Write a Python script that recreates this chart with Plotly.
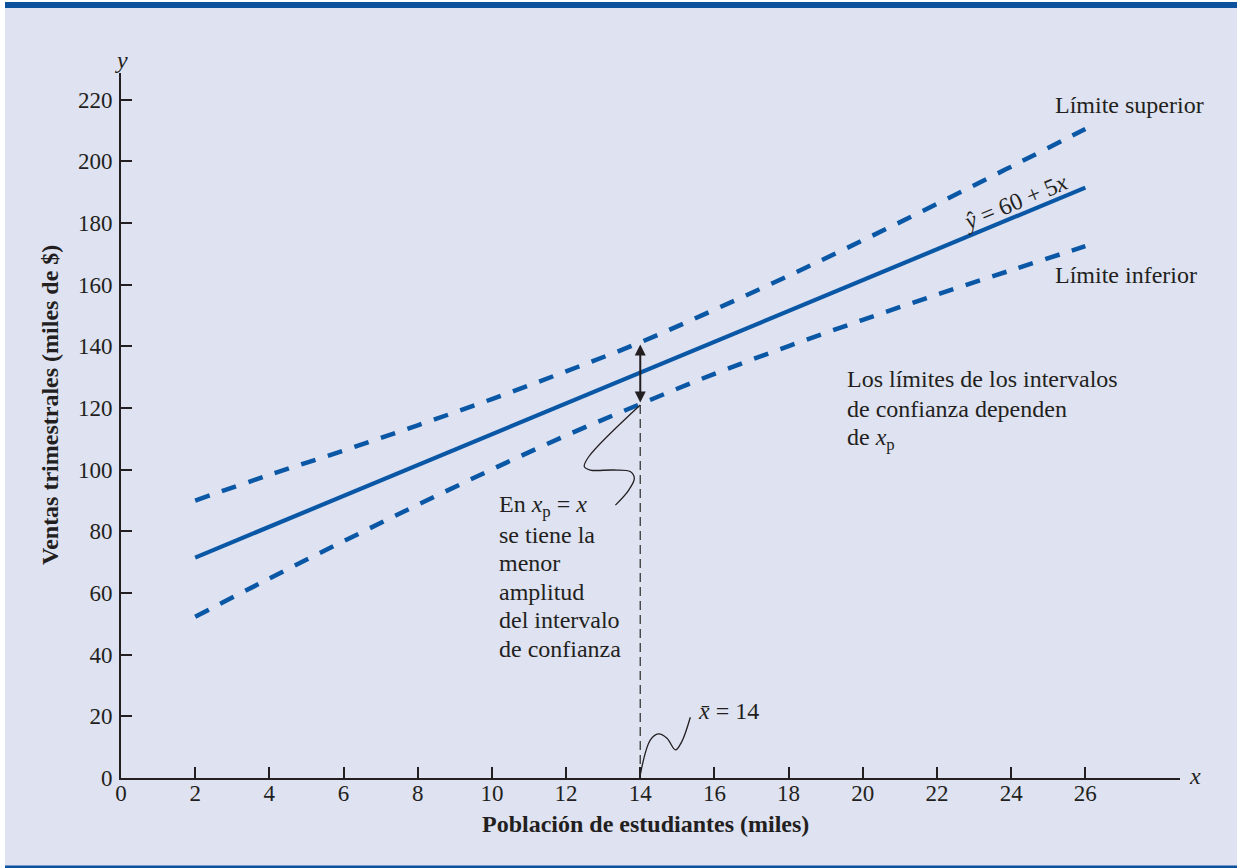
import plotly.graph_objects as go

# ---------------- data ----------------
x_pts = [2, 4, 6, 8, 10, 12, 14, 16, 18, 20, 22, 24, 26]
y_hat = [71.5, 81.5, 91.5, 101.5, 111.5, 121.5, 131.5, 141.5, 151.5, 161.5, 171.5, 181.5, 191.5]
upper = [90.0, 98.3, 106.2, 114.4, 122.9, 131.9, 141.3, 151.9, 162.9, 174.4, 186.2, 198.3, 210.5]
lower = [52.3, 64.7, 76.8, 88.6, 100.1, 111.1, 121.3, 131.1, 140.1, 148.6, 156.8, 164.7, 172.5]

x_tick_vals = list(range(0, 27, 2))
y_tick_vals = list(range(0, 221, 20))

x_bar = 14
vline_x = [14, 14]
vline_y = [0, 121.3]
arrow_lo, arrow_hi = 121.3, 140.6

squig1_x = [14.0, 12.61, 12.49, 12.65, 13.28, 13.73, 13.84, 13.69, 13.33]
squig1_y = [121.0, 104.2, 101.0, 99.9, 99.9, 99.4, 97.2, 93.4, 88.5]
squig2_x = [14.0, 14.27, 14.49, 14.72, 14.95, 15.12, 15.35]
squig2_y = [1.0, 12.3, 14.3, 12.9, 9.1, 11.8, 19.7]

# ---------------- styling ----------------
W, H = 1237, 868
ML, MR, MT, MB = 121, 57, 73, 90
PW, PH = W - ML - MR, H - MT - MB
X_RANGE = [0, PW / 37.09]
Y_RANGE = [0, PH / 3.083]

BG = "#DEE2F1"
BLUE = "#0A57A6"
BAND = "#0B519C"
INK = "#231F20"
SERIF = "Liberation Serif, Times New Roman, serif"


def px_x(p):
    return (p - ML) / PW


def px_y(p):
    return (H - MB - p) / PH


fig = go.Figure()

fig.add_trace(go.Scatter(x=x_pts, y=upper, mode="lines", line=dict(color=BLUE, width=4.5, dash="15px,13px", shape="spline"), hoverinfo="skip"))
fig.add_trace(go.Scatter(x=x_pts, y=lower, mode="lines", line=dict(color=BLUE, width=4.5, dash="15px,13px", shape="spline"), hoverinfo="skip"))
fig.add_trace(go.Scatter(x=x_pts, y=y_hat, mode="lines", line=dict(color=BLUE, width=4.2), hoverinfo="skip"))
fig.add_trace(go.Scatter(x=vline_x, y=vline_y, mode="lines", line=dict(color="#444444", width=1.4, dash="9px,5px"), hoverinfo="skip"))
fig.add_trace(go.Scatter(x=squig1_x, y=squig1_y, mode="lines", line=dict(color=INK, width=1.3, shape="spline", smoothing=1.0), hoverinfo="skip"))
fig.add_trace(go.Scatter(x=squig2_x, y=squig2_y, mode="lines", line=dict(color=INK, width=1.3, shape="spline", smoothing=1.0), hoverinfo="skip"))

annotations = []
# double arrow
annotations.append(dict(x=x_bar, y=arrow_hi, ax=x_bar, ay=arrow_lo, xref="x", yref="y", axref="x", ayref="y",
                        showarrow=True, arrowhead=2, startarrowhead=2, arrowside="end+start",
                        arrowsize=1.1, startarrowsize=1.1, arrowwidth=2, arrowcolor=INK, text=""))


def txt(text, x, y, size=24, xanchor="left", yanchor="middle", xref="x", yref="y", angle=0, bold=False):
    annotations.append(dict(text=text, x=x, y=y, xref=xref, yref=yref, showarrow=False,
                            xanchor=xanchor, yanchor=yanchor, textangle=angle,
                            font=dict(family=SERIF, size=size, color=INK,
                                      weight="bold" if bold else "normal")))


txt("Límite superior", 25.14, 218.4)
txt("Límite inferior", 25.14, 163.1)
txt("<i>ŷ</i> = 60 + 5<i>x</i>", 24.11, 186.8, xanchor="center", angle=-22.5)

los = ["Los límites de los intervalos", "de confianza dependen", "de <i>x</i><sub>p</sub>"]
for i, line in enumerate(los):
    txt(line, px_x(845), px_y(379 + 30 * i), xref="paper", yref="paper")

en = ["En <i>x</i><sub>p</sub> = <i>x</i>", "se tiene la", "menor", "amplitud", "del intervalo", "de confianza"]
for i, line in enumerate(en):
    txt(line, px_x(497), px_y(506 + 28.6 * i), xref="paper", yref="paper")

txt("<i>x\u0304</i> = 14", 15.5, 21.7)

# axis letters and titles
txt("<i>y</i>", px_x(121.5), px_y(60), xanchor="center", xref="paper", yref="paper")
txt("<i>x</i>", px_x(1195), px_y(776), xanchor="center", xref="paper", yref="paper")
txt("Población de estudiantes (miles)", px_x(645), px_y(824), xanchor="center", xref="paper", yref="paper", bold=True)
txt("Ventas trimestrales (miles de $)", px_x(50), px_y(405), xanchor="center", xref="paper", yref="paper", angle=-90, bold=True)

shapes = [
    dict(type="rect", xref="paper", yref="paper", x0=px_x(0), x1=px_x(W), y0=px_y(0), y1=px_y(2), fillcolor="white", line_width=0, layer="above"),
    dict(type="rect", xref="paper", yref="paper", x0=px_x(0), x1=px_x(W), y0=px_y(2), y1=px_y(8), fillcolor=BAND, line_width=0, layer="above"),
    dict(type="rect", xref="paper", yref="paper", x0=px_x(0), x1=px_x(W), y0=px_y(865.5), y1=px_y(H), fillcolor=BAND, line_width=0, layer="above"),
    dict(type="rect", xref="paper", yref="paper", x0=px_x(0), x1=px_x(5), y0=px_y(0), y1=px_y(H), fillcolor="white", line_width=0, layer="above"),
]

axis_common = dict(showgrid=False, zeroline=False, showline=True, linecolor=INK, linewidth=2,
                   ticks="inside", ticklen=11, tickwidth=2, tickcolor=INK,
                   tickfont=dict(family=SERIF, size=23, color=INK))

fig.update_layout(
    width=W, height=H, autosize=False,
    margin=dict(l=ML, r=MR, t=MT, b=MB),
    paper_bgcolor=BG, plot_bgcolor=BG,
    showlegend=False,
    xaxis=dict(range=X_RANGE, tickvals=x_tick_vals, ticktext=[str(v) for v in x_tick_vals],
               ticklabelstandoff=-7, **axis_common),
    yaxis=dict(range=Y_RANGE, tickvals=y_tick_vals, ticktext=[str(v) for v in y_tick_vals],
               ticklabelstandoff=2, **axis_common),
    annotations=annotations,
    shapes=shapes,
)

fig.write_html("out.html", config={"displayModeBar": False},
               post_script="document.body.style.margin='0px';document.body.style.overflow='hidden';")
